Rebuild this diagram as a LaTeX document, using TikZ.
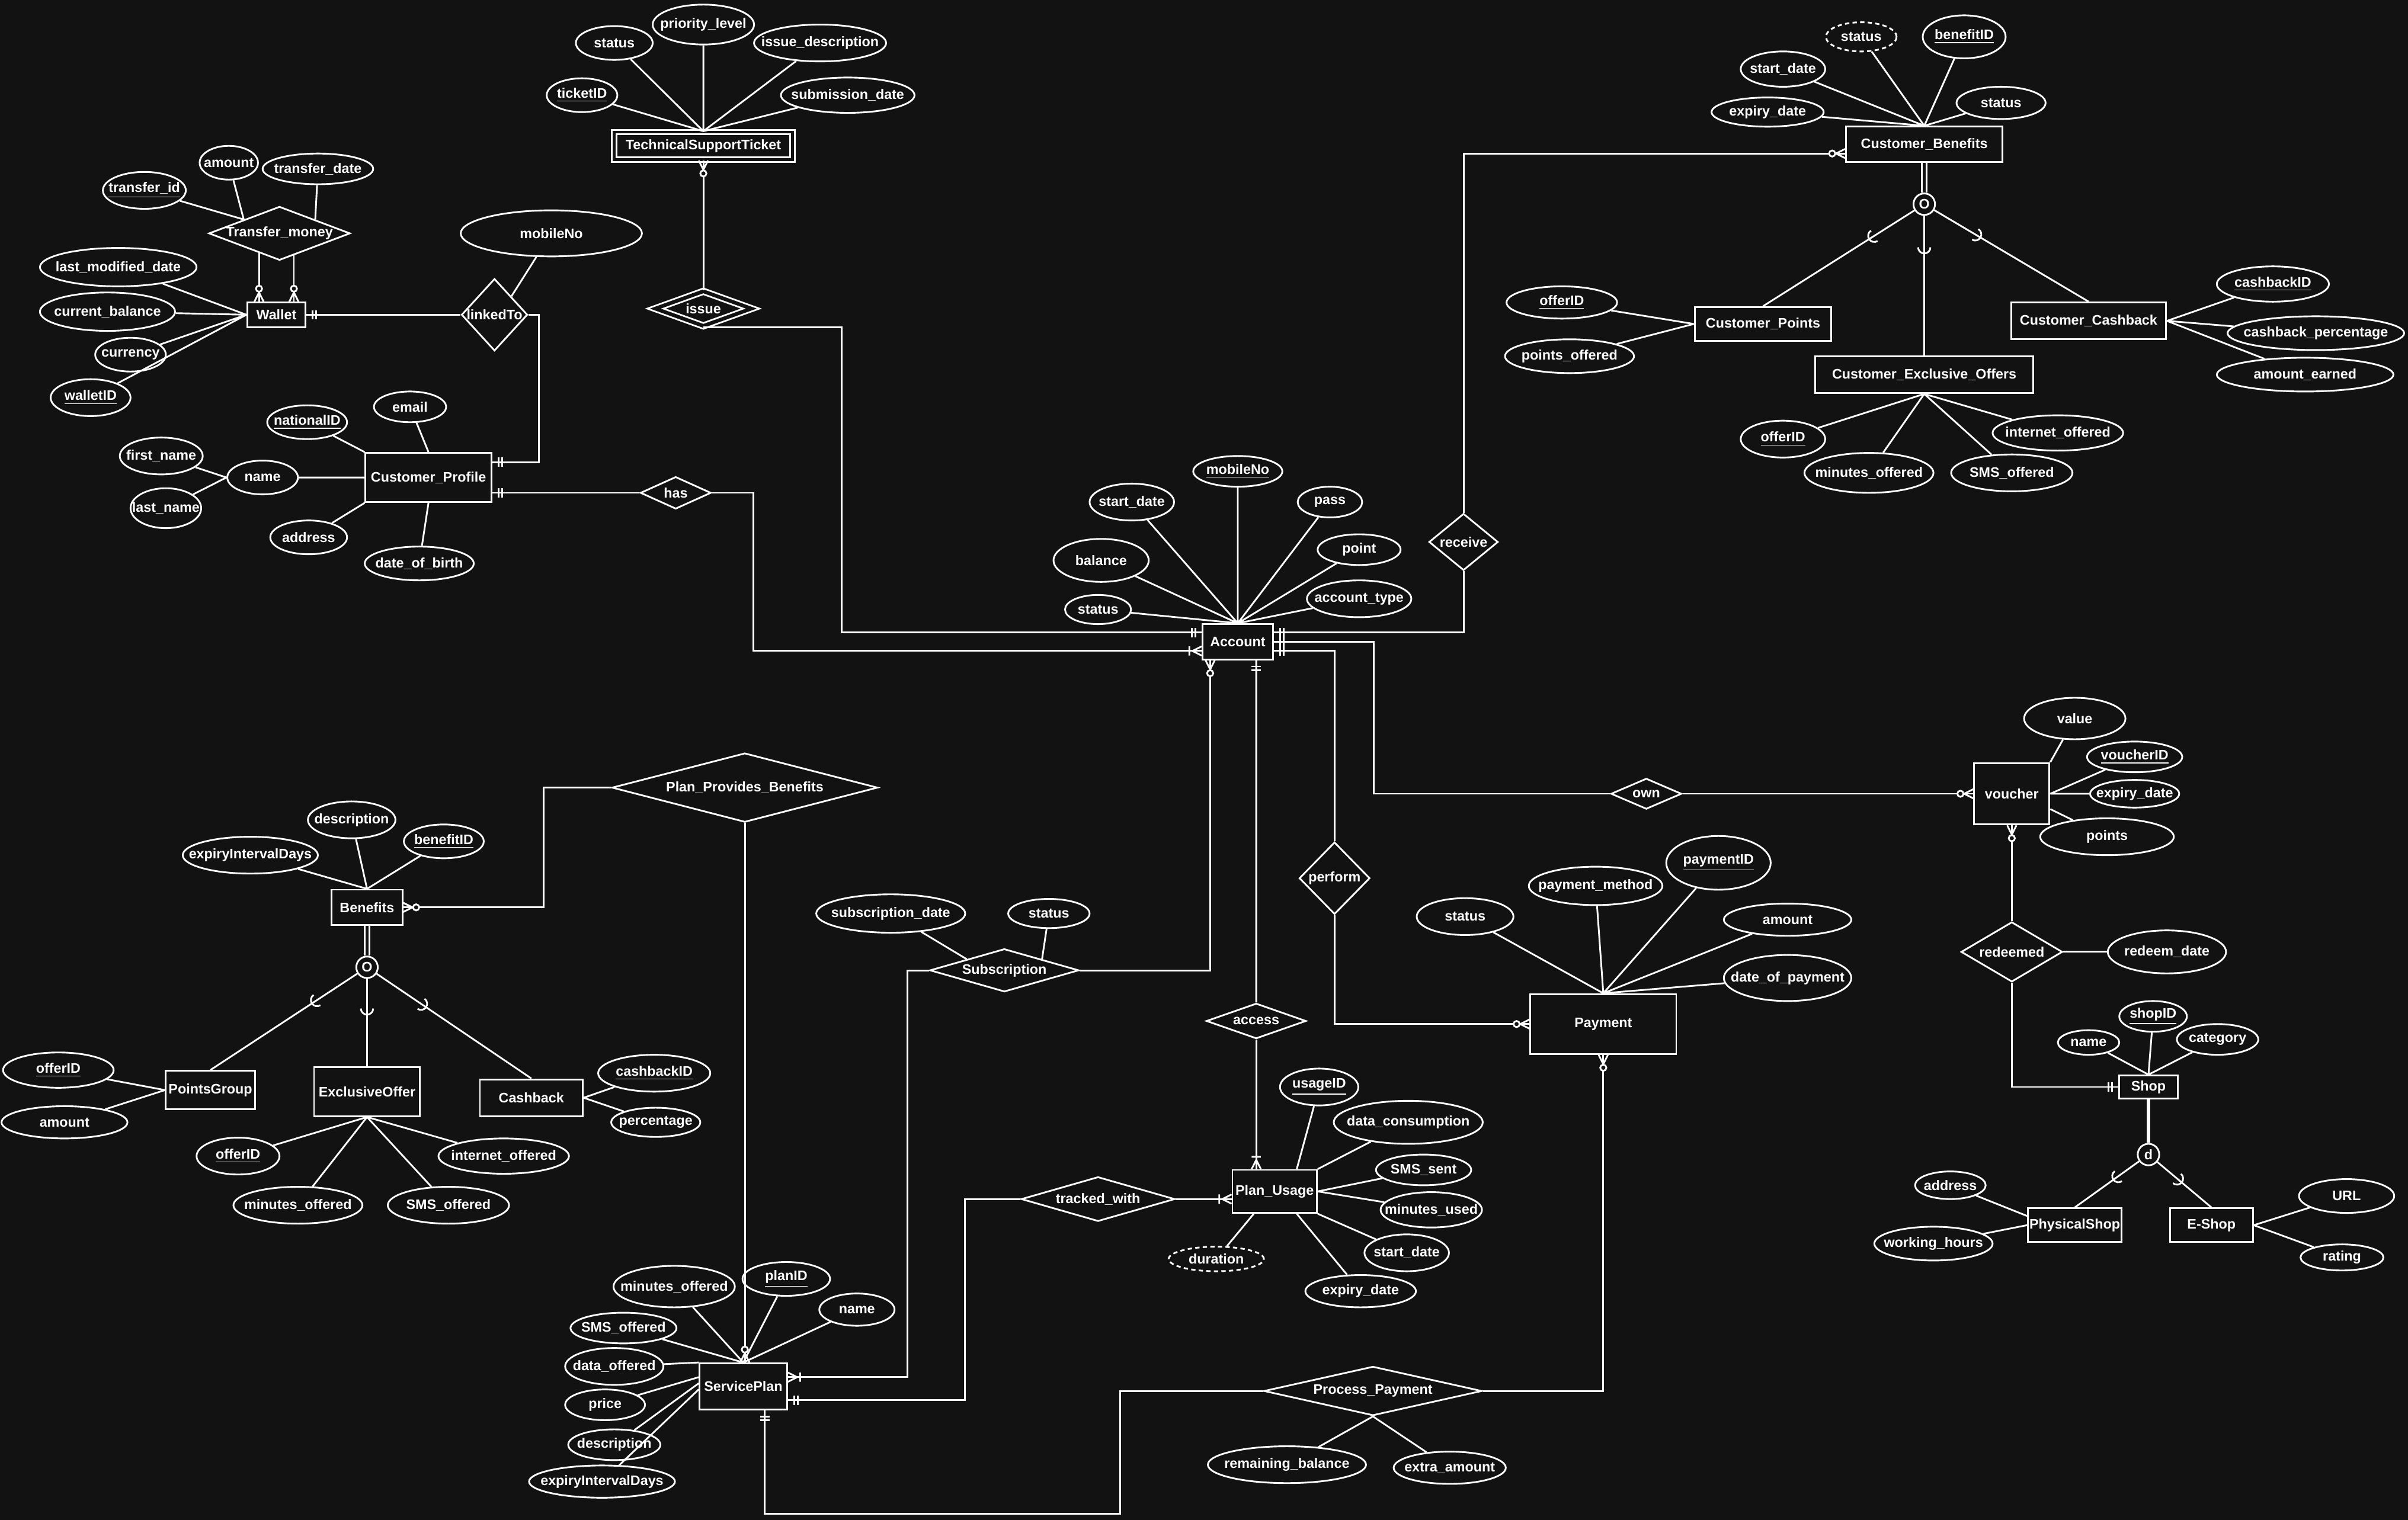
\documentclass[tikz,border=0pt]{standalone}
\usepackage{fontspec}
\setmainfont{Liberation Sans}
\usetikzlibrary{shapes.geometric, decorations.markings}
\definecolor{bg}{HTML}{121212}

\begin{document}
\begin{tikzpicture}[
    x=0.25mm, y=-0.25mm, color=white, line width=0.8pt,
    every node/.style={font=\bfseries\fontsize{6.4}{7}\selectfont},
    sz/.style 2 args={minimum width=#1*0.25mm, minimum height=#2*0.25mm},
    ent/.style={rectangle, draw, inner sep=0pt},
    attr/.style={ellipse, draw, inner sep=0pt, label={center:#1}},
    rel/.style={diamond, draw, inner sep=0pt, label={center:#1}},
    spec/.style={circle, draw, inner sep=0pt, minimum size=3.5mm},
    derived/.style={dash pattern=on 2pt off 1.5pt},
    zeromany/.style={postaction={decorate, decoration={markings, mark=at position 1 with {\draw (-1.5mm,0) -- (0,0.75mm) (-1.5mm,0) -- (0,-0.75mm); \draw[fill=bg] (-2.1mm,0) circle[radius=0.5mm];}}}},
    onemany/.style={postaction={decorate, decoration={markings, mark=at position 1 with {\draw (-1.5mm,0) -- (0,0.75mm) (-1.5mm,0) -- (0,-0.75mm) (-2mm,-0.75mm) -- (-2mm,0.75mm);}}}},
    onlyone/.style={postaction={decorate, decoration={markings, mark=at position 1 with {\draw (-1mm,-0.75mm) -- (-1mm,0.75mm) (-1.6mm,-0.75mm) -- (-1.6mm,0.75mm);}}}},
    subarc/.style={postaction={decorate, decoration={markings, mark=at position #1 with {\draw (-1mm,1mm) arc[start angle=90, end angle=-90, radius=1mm];}}}}
]

\fill[bg] (0,0) rectangle (1568,990);

\node[ent, double=bg, double distance=0.45mm, sz={116}{18}] (tst) at (458,95) {TechnicalSupportTicket};
\node[ent, sz={38}{16}] (wallet) at (180,205) {Wallet};
\node[ent, sz={82}{32}] (profile) at (279,311) {Customer\_Profile};
\node[ent, sz={46}{23}] (account) at (806,418) {Account};
\node[ent, sz={102}{23}] (custben) at (1253,94) {Customer\_Benefits};
\node[ent, sz={89}{22}] (custpts) at (1148,211) {Customer\_Points};
\node[ent, sz={101}{24}] (custcash) at (1360,209) {Customer\_Cashback};
\node[ent, sz={142}{24}] (custexcl) at (1253,244) {Customer\_Exclusive\_Offers};
\node[ent, sz={49}{40}] (voucher) at (1310,517) {voucher};
\node[ent, sz={38}{15}] (shop) at (1399,708) {Shop};
\node[ent, sz={61}{22}] (physshop) at (1351,798) {PhysicalShop};
\node[ent, sz={54}{22}] (eshop) at (1440,798) {E-Shop};
\node[ent, sz={95}{39}] (payment) at (1044,667) {Payment};
\node[ent, sz={55}{28}] (usage) at (830,776) {Plan\_Usage};
\node[ent, sz={57}{30}] (plan) at (484,903) {ServicePlan};
\node[ent, sz={46}{23}] (benefits) at (239,591) {Benefits};
\node[ent, sz={58}{25}] (ptsgroup) at (137,710) {PointsGroup};
\node[ent, sz={69}{32}] (excloffer) at (239,711) {ExclusiveOffer};
\node[ent, sz={67}{24}] (cashback) at (346,715) {Cashback};

\node[rel=Transfer\_money, sz={92}{35}] (transfer) at (182,152) {};
\node[rel=linkedTo, sz={43}{47}] (linked) at (322,205) {};
\node[rel=issue, double=bg, double distance=0.6mm, sz={63}{23}] (issue) at (458,201) {};
\node[rel=has, sz={46}{21}] (has) at (440,321) {};
\node[rel=receive, sz={45}{37}] (receive) at (953,353) {};
\node[rel=own, sz={46}{20}] (own) at (1072,517) {};
\node[rel=perform, sz={46}{47}] (perform) at (869,572) {};
\node[rel=access, sz={65}{23}] (access) at (818,665) {};
\node[rel=Subscription, sz={97}{28}] (subscr) at (654,632) {};
\node[rel=Plan\_Provides\_Benefits, sz={173}{45}] (provides) at (485,513) {};
\node[rel=tracked\_with, sz={100}{29}] (tracked) at (715,781) {};
\node[rel=Process\_Payment, sz={142}{32}] (procpay) at (894,906) {};
\node[rel=redeemed, sz={66}{39}] (redeemed) at (1310,620) {};

\node[spec] (cbspec) at (1253,133) {O};
\node[spec] (benspec) at (239,630) {O};
\node[spec] (shopspec) at (1399,752) {d};

\node[attr=status, sz={50}{22}] (tst-status) at (400,28) {};
\node[attr=priority\_level, sz={66}{26}] (tst-prio) at (458,16) {};
\node[attr=issue\_description, sz={86}{24}] (tst-desc) at (534,28) {};
\node[attr=\underline{ticketID}, sz={46}{22}] (tst-id) at (379,62) {};
\node[attr=submission\_date, sz={87}{23}] (tst-date) at (552,62) {};

\node[attr=\underline{transfer\_id}, sz={54}{24}] (tr-id) at (94,124) {};
\node[attr=amount, sz={38}{22}] (tr-amount) at (149,106) {};
\node[attr=transfer\_date, sz={72}{20}] (tr-date) at (207,110) {};
\node[attr=last\_modified\_date, sz={102}{25}] (w-mod) at (77,174) {};
\node[attr=current\_balance, sz={88}{25}] (w-bal) at (70,203) {};
\node[attr=currency, sz={46}{22}] (w-cur) at (85,231) {};
\node[attr=\underline{walletID}, sz={52}{24}] (w-id) at (59,259) {};
\node[attr=mobileNo, sz={118}{30}] (l-mobile) at (359,152) {};

\node[attr=\underline{nationalID}, sz={52}{22}] (p-nid) at (200,275) {};
\node[attr=email, sz={47}{20}] (p-email) at (267,265) {};
\node[attr=name, sz={46}{22}] (p-name) at (171,311) {};
\node[attr=first\_name, sz={54}{24}] (p-first) at (105,297) {};
\node[attr=last\_name, sz={46}{26}] (p-last) at (108,331) {};
\node[attr=address, sz={50}{22}] (p-addr) at (201,350) {};
\node[attr=date\_of\_birth, sz={71}{22}] (p-dob) at (273,367) {};

\node[attr=\underline{mobileNo}, sz={58}{20}] (a-mobile) at (806,307) {};
\node[attr=start\_date, sz={55}{24}] (a-start) at (737,327) {};
\node[attr=pass, sz={42}{20}] (a-pass) at (866,327) {};
\node[attr=balance, sz={62}{28}] (a-bal) at (717,365) {};
\node[attr=point, sz={54}{20}] (a-point) at (885,358) {};
\node[attr=status, sz={43}{19}] (a-status) at (715,397) {};
\node[attr=account\_type, sz={68}{24}] (a-type) at (885,390) {};

\node[attr=status, derived, sz={46}{19}] (cb-status2) at (1212,24) {};
\node[attr=\underline{benefitID}, sz={54}{28}] (cb-id) at (1279,24) {};
\node[attr=start\_date, sz={55}{23}] (cb-start) at (1161,45) {};
\node[attr=status, sz={58}{21}] (cb-status) at (1303,67) {};
\node[attr=expiry\_date, sz={73}{19}] (cb-exp) at (1151,73) {};
\node[attr=\underline{offerID}, sz={72}{21}] (cp-id) at (1017,197) {};
\node[attr=points\_offered, sz={84}{22}] (cp-pts) at (1022,232) {};
\node[attr=\underline{cashbackID}, sz={73}{23}] (cc-id) at (1480,185) {};
\node[attr=cashback\_percentage, sz={115}{22}] (cc-pct) at (1508,217) {};
\node[attr=amount\_earned, sz={115}{22}] (cc-amt) at (1501,244) {};
\node[attr=\underline{offerID}, sz={55}{24}] (ce-id) at (1161,286) {};
\node[attr=minutes\_offered, sz={84}{26}] (ce-min) at (1217,308) {};
\node[attr=SMS\_offered, sz={79}{24}] (ce-sms) at (1310,308) {};
\node[attr=internet\_offered, sz={85}{23}] (ce-net) at (1340,282) {};

\node[attr=value, sz={66}{27}] (v-value) at (1351,468) {};
\node[attr=\underline{voucherID}, sz={62}{20}] (v-id) at (1390,493) {};
\node[attr=expiry\_date, sz={58}{18}] (v-exp) at (1390,517) {};
\node[attr=points, sz={87}{24}] (v-points) at (1372,545) {};
\node[attr=redeem\_date, sz={77}{28}] (r-date) at (1411,620) {};
\node[attr=\underline{shopID}, sz={44}{20}] (s-id) at (1402,662) {};
\node[attr=name, sz={40}{16}] (s-name) at (1360,679) {};
\node[attr=category, sz={53}{20}] (s-cat) at (1444,677) {};
\node[attr=address, sz={46}{18}] (ps-addr) at (1270,772) {};
\node[attr=working\_hours, sz={77}{22}] (ps-hours) at (1259,810) {};
\node[attr=URL, sz={62}{22}] (es-url) at (1528,779) {};
\node[attr=rating, sz={54}{17}] (es-rating) at (1525,819) {};

\node[attr=status, sz={63}{24}] (pm-status) at (954,597) {};
\node[attr=payment\_method, sz={87}{25}] (pm-method) at (1039,577) {};
\node[attr=\underline{paymentID}, sz={68}{35}] (pm-id) at (1119,562) {};
\node[attr=amount, sz={83}{21}] (pm-amount) at (1164,599) {};
\node[attr=date\_of\_payment, sz={83}{30}] (pm-date) at (1164,637) {};

\node[attr=subscription\_date, sz={97}{25}] (su-date) at (580,595) {};
\node[attr=status, sz={53}{19}] (su-status) at (683,595) {};
\node[attr=\underline{usageID}, sz={51}{24}] (u-id) at (859,708) {};
\node[attr=data\_consumption, sz={97}{28}] (u-data) at (917,731) {};
\node[attr=SMS\_sent, sz={62}{20}] (u-sms) at (927,762) {};
\node[attr=minutes\_used, sz={66}{23}] (u-min) at (932,788) {};
\node[attr=start\_date, sz={55}{24}] (u-start) at (916,816) {};
\node[attr=expiry\_date, sz={72}{21}] (u-exp) at (886,841) {};
\node[attr=duration, derived, sz={62}{16}] (u-dur) at (792,820) {};

\node[attr=minutes\_offered, sz={79}{27}] (sp-min) at (439,838) {};
\node[attr=\underline{planID}, sz={57}{22}] (sp-id) at (512,833) {};
\node[attr=name, sz={49}{21}] (sp-name) at (558,853) {};
\node[attr=SMS\_offered, sz={69}{20}] (sp-sms) at (406,865) {};
\node[attr=data\_offered, sz={64}{24}] (sp-data) at (400,890) {};
\node[attr=price, sz={52}{20}] (sp-price) at (394,915) {};
\node[attr=description, sz={60}{20}] (sp-desc) at (400,941) {};
\node[attr=expiryIntervalDays, sz={95}{21}] (sp-exp) at (392,965) {};
\node[attr=remaining\_balance, sz={103}{24}] (pp-rem) at (838,954) {};
\node[attr=extra\_amount, sz={73}{21}] (pp-extra) at (944,956) {};

\node[attr=description, sz={57}{24}] (b-desc) at (229,534) {};
\node[attr=expiryIntervalDays, sz={88}{24}] (b-exp) at (163,557) {};
\node[attr=\underline{benefitID}, sz={52}{22}] (b-id) at (289,548) {};
\node[attr=\underline{offerID}, sz={72}{23}] (pg-id) at (38,697) {};
\node[attr=amount, sz={82}{21}] (pg-amount) at (42,731) {};
\node[attr=\underline{offerID}, sz={54}{24}] (eo-id) at (155,753) {};
\node[attr=minutes\_offered, sz={84}{24}] (eo-min) at (194,785) {};
\node[attr=SMS\_offered, sz={79}{24}] (eo-sms) at (292,785) {};
\node[attr=internet\_offered, sz={85}{23}] (eo-net) at (328,753) {};
\node[attr=\underline{cashbackID}, sz={73}{24}] (c-id) at (426,699) {};
\node[attr=percentage, sz={58}{19}] (c-pct) at (427,731) {};

\draw (tst-status) -- (tst.north) (tst-prio) -- (tst.north) (tst-desc) -- (tst.north) (tst-id) -- (tst.north) (tst-date) -- (tst.north);
\draw (tr-id) -- (transfer.north west) (tr-amount) -- (transfer.north west) (tr-date) -- (transfer.north east);
\draw (w-mod) -- (wallet.west) (w-bal) -- (wallet.west) (w-cur) -- (wallet.west) (w-id) -- (wallet.west);
\draw[zeromany] (transfer.-136) -- (transfer.-136 |- wallet.north);
\draw[zeromany] (transfer.-57) -- (transfer.-57 |- wallet.north);
\draw (l-mobile) -- (linked.north east);
\draw[onlyone] (linked.west) -- (wallet.east);
\draw[onlyone] (linked.east) -- ++(7,0) |- ([yshift=2.5mm]profile.east);
\draw (p-nid) -- (profile.north west) (p-email) -- (profile.north) (p-name) -- (profile.west) (p-addr) -- (profile.south west) (p-dob) -- (profile.south);
\draw (p-first) -- (p-name.west) (p-last) -- (p-name.west);
\draw[onlyone] (has.west) -- (has.west -| profile.east);
\draw[onemany] (has.east) -- ++(27,0) |- ([yshift=-1.5mm]account.west);
\draw[zeromany] (issue.north) -- (tst.south);
\draw[onlyone] (issue.south) -- ++(90,0) |- ([yshift=1.5mm]account.west);

\draw (a-mobile) -- (account.north) (a-start) -- (account.north) (a-pass) -- (account.north) (a-bal) -- (account.north) (a-point) -- (account.north) (a-status) -- (account.north) (a-type) -- (account.north);
\draw[onlyone] (receive.south) |- ([yshift=1.5mm]account.east);
\draw[zeromany] (receive.north) |- ([yshift=-1.5mm]custben.west);
\draw[onlyone] (own.west) -- ++(-154,0) |- (account.east);
\draw[zeromany] (own.east) -- (voucher.west);
\draw[onlyone] (perform.north) |- ([yshift=-1.5mm]account.east);
\draw[zeromany] (perform.south) |- (payment.west);
\draw[zeromany] (subscr.east) -| ([xshift=-4.5mm]account.south);
\draw[onlyone] (access.north) -- ([xshift=3mm]account.south);
\draw[onemany] (access.south) -- (access.south |- usage.north);

\draw (su-date) -- (subscr.north west) (su-status) -- (subscr.north east);
\draw[onemany] (subscr.west) -- ++(-14,0) |- ([yshift=1.5mm]plan.east);
\draw[onlyone] (tracked.west) -- ++(-36,0) |- ([yshift=-2.25mm]plan.east);
\draw[onemany] (tracked.east) -- (tracked.east -| usage.west);
\draw (u-id) -- ([xshift=3.6mm]usage.north) (u-data) -- (usage.north east) (u-sms) -- (usage.east) (u-min) -- (usage.east) (u-start) -- (usage.south east) (u-exp) -- ([xshift=3.6mm]usage.south) (u-dur) -- ([xshift=-3.4mm]usage.south);
\draw[zeromany] (provides.west) -- ++(-44,0) |- (benefits.east);
\draw[zeromany] (provides.south) -- (provides.south |- plan.north);
\draw (sp-min) -- (plan.north) (sp-id) -- (plan.north) (sp-name) -- (plan.north) (sp-sms) -- (plan.north) (sp-data) -- (plan.north west) (sp-price) -- ([yshift=1.5mm]plan.west) (sp-desc) -- ([yshift=0.5mm]plan.west) (sp-exp) -- ([yshift=-0.5mm]plan.west);
\draw[onlyone] (procpay.west) -- ++(-93,0) -- ++(0,80) -| ([xshift=3.5mm]plan.south);
\draw[zeromany] (procpay.east) -| (payment.south);
\draw (pp-rem) -- (procpay.south) (pp-extra) -- (procpay.south);
\draw (pm-status) -- (payment.north) (pm-method) -- (payment.north) (pm-id) -- (payment.north) (pm-amount) -- (payment.north) (pm-date) -- (payment.north);

\draw (cb-status2) -- (custben.north) (cb-id) -- (custben.north) (cb-start) -- (custben.north) (cb-status) -- (custben.north) (cb-exp) -- (custben.north);
\draw[double=bg, double distance=0.5mm] (custben.south) -- (cbspec.north);
\draw[subarc=0.3] (cbspec) -- (custpts.north);
\draw[subarc=0.27] (cbspec) -- (custexcl.north);
\draw[subarc=0.3] (cbspec) -- (custcash.north);
\draw (cp-id) -- (custpts.west) (cp-pts) -- (custpts.west);
\draw (custcash.east) -- (cc-id) (custcash.east) -- (cc-pct) (custcash.east) -- (cc-amt);
\draw (custexcl.south) -- (ce-id) (custexcl.south) -- (ce-min) (custexcl.south) -- (ce-sms) (custexcl.south) -- (ce-net);

\draw (v-value) -- (voucher.north east) (v-id) -- (voucher.east) (v-exp) -- (voucher.east) (v-points) -- ([yshift=-2.5mm]voucher.east);
\draw[zeromany] (redeemed.north) -- (voucher.south);
\draw[onlyone] (redeemed.south) |- (shop.west);
\draw (redeemed.east) -- (r-date);
\draw (s-id) -- (shop.north) (s-name) -- (shop.north) (s-cat) -- (shop.north);
\draw[line width=1.6pt] (shop.south) -- (shopspec.north);
\draw[subarc=0.4] (shopspec) -- (physshop.north);
\draw[subarc=0.45] (shopspec) -- (eshop.north);
\draw (ps-addr) -- ([yshift=1.5mm]physshop.west) (ps-hours) -- (physshop.west);
\draw (eshop.east) -- (es-url) (eshop.east) -- (es-rating);

\draw (b-desc) -- (benefits.north) (b-exp) -- (benefits.north) (b-id) -- (benefits.north);
\draw[double=bg, double distance=0.5mm] (benefits.south) -- (benspec.north);
\draw[subarc=0.31] (benspec) -- (ptsgroup.north);
\draw[subarc=0.41] (benspec) -- (excloffer.north);
\draw[subarc=0.32] (benspec) -- (cashback.north);
\draw (pg-id) -- (ptsgroup.west) (pg-amount) -- (ptsgroup.west);
\draw (excloffer.south) -- (eo-id) (excloffer.south) -- (eo-min) (excloffer.south) -- (eo-sms) (excloffer.south) -- (eo-net);
\draw (cashback.east) -- (c-id) (cashback.east) -- (c-pct);

\end{tikzpicture}
\end{document}
